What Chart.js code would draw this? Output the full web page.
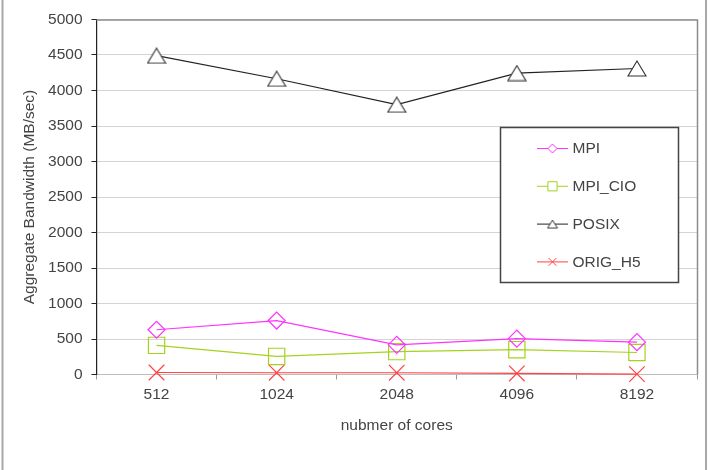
<!DOCTYPE html>
<html>
<head>
<meta charset="utf-8">
<script src="https://cdn.jsdelivr.net/npm/chart.js@4.4.1/dist/chart.umd.min.js"></script>
<style>
  html, body { margin: 0; padding: 0; background: #fff; }
  #wrap { width: 712px; height: 470px; position: relative; }
</style>
</head>
<body>
<div id="wrap"><canvas id="c" width="712" height="470"></canvas></div>
<script>
const categories = ['512', '1024', '2048', '4096', '8192'];
const mpi      = [630, 760, 418, 505, 455];
const mpiCio   = [410, 255, 322, 350, 310];
const posix    = [4490, 4165, 3800, 4245, 4310];
const origH5   = [28, 25, 25, 15, 5];
const seriesNames = ['MPI', 'MPI_CIO', 'POSIX', 'ORIG_H5'];
const yTitle = 'Aggregate Bandwidth (MB/sec)';
const xTitle = 'nubmer of cores';

const FONT = 'Liberation Sans, Arial, sans-serif';
const FS = 15.5;
const TXT = '#444444';

function makeTriangle(w, h, color, lw) {
  const c = document.createElement('canvas');
  c.width = w + 2; c.height = h + 2;
  const g = c.getContext('2d');
  g.strokeStyle = color; g.lineWidth = lw;
  g.fillStyle = '#ffffff';
  g.beginPath();
  g.moveTo(c.width / 2, 1);
  g.lineTo(c.width - 1, c.height - 1);
  g.lineTo(1, c.height - 1);
  g.closePath();
  g.fill();
  g.stroke();
  return c;
}
const triBig = makeTriangle(18, 15, '#333333', 1.1);
const triSmall = makeTriangle(10, 8, '#333333', 1);

const legendStyles = [
  { style: 'rectRot', r: 4.5, color: '#ff33ff' },
  { style: 'rect', r: 6.5, color: '#a6d21e' },
  { style: triSmall, r: 5, color: '#222222' },
  { style: 'crossRot', r: 5.5, color: '#ff4444' }
];

const framePlugin = {
  id: 'frame',
  beforeDraw(chart) {
    const ctx = chart.ctx;
    ctx.save();
    ctx.strokeStyle = '#a8a8a8';
    ctx.lineWidth = 2;
    ctx.beginPath();
    ctx.moveTo(2.5, 0); ctx.lineTo(2.5, 470);
    ctx.moveTo(706, 0); ctx.lineTo(706, 470);
    ctx.stroke();
    ctx.restore();
  },
  beforeDatasetsDraw(chart) {
    const {ctx, chartArea: a} = chart;
    ctx.save();
    ctx.strokeStyle = '#8c8c8c';
    ctx.lineWidth = 1.5;
    ctx.beginPath();
    ctx.moveTo(a.left, a.top + 0.5);
    ctx.lineTo(a.right + 0.5, a.top + 0.5);
    ctx.lineTo(a.right + 0.5, a.bottom);
    ctx.stroke();
    ctx.restore();
  },
  afterDraw(chart) {
    const ctx = chart.ctx;
    const bx = 500.5, by = 127.5, bw = 178, bh = 155;
    ctx.save();
    ctx.fillStyle = '#ffffff';
    ctx.fillRect(bx, by, bw, bh);
    ctx.strokeStyle = '#444';
    ctx.lineWidth = 1.5;
    ctx.strokeRect(bx, by, bw, bh);
    chart.data.datasets.forEach((ds, i) => {
      const y = 148.5 + i * 37.8;
      const ls = legendStyles[i];
      ctx.strokeStyle = ls.color;
      ctx.lineWidth = 1;
      ctx.beginPath();
      ctx.moveTo(537, y); ctx.lineTo(568, y);
      ctx.stroke();
      ctx.fillStyle = '#ffffff';
      Chart.helpers.drawPoint(ctx, { pointStyle: ls.style, radius: ls.r, rotation: 0, borderWidth: 1 }, 552.5, y);
      ctx.fillStyle = TXT;
      ctx.font = FS + 'px ' + FONT;
      ctx.textBaseline = 'middle';
      ctx.textAlign = 'left';
      ctx.fillText(ds.label, 572.5, y + 0.5);
    });
    ctx.restore();
  }
};

function mk(label, data, color, style, radius) {
  return {
    label, data,
    borderColor: color,
    backgroundColor: 'rgba(255,255,255,0)',
    borderWidth: 1.2,
    pointStyle: style,
    pointRadius: radius,
    pointHoverRadius: radius,
    pointBorderColor: color,
    pointBackgroundColor: 'rgba(255,255,255,0)',
    pointBorderWidth: 1.2,
    tension: 0,
    fill: false,
    clip: false
  };
}

new Chart(document.getElementById('c'), {
  type: 'line',
  data: {
    labels: categories,
    datasets: [
      mk(seriesNames[0], mpi, '#ff33ff', 'rectRot', 8.5),
      mk(seriesNames[1], mpiCio, '#a6d21e', 'rect', 11.5),
      mk(seriesNames[2], posix, '#222222', triBig, 10),
      mk(seriesNames[3], origH5, '#ff4444', 'crossRot', 11)
    ]
  },
  options: {
    responsive: false,
    animation: false,
    devicePixelRatio: 1,
    layout: { padding: { left: 0, right: 15, top: 19.5, bottom: 0 } },
    plugins: { legend: { display: false }, tooltip: { enabled: false } },
    scales: {
      x: {
        offset: true,
        grid: { offset: true, drawOnChartArea: false, tickLength: 5, color: '#9a9a9a', tickColor: '#9a9a9a' },
        border: { color: '#bdbdbd', width: 1 },
        ticks: { color: TXT, font: { family: FONT, size: FS }, padding: 6, maxRotation: 0 },
        title: { display: true, text: xTitle, color: TXT, font: { family: FONT, size: FS }, padding: { top: 0, bottom: 34.5 } },
        afterFit(s) { s.height = 95.5; }
      },
      y: {
        min: 0, max: 5000,
        ticks: { stepSize: 500, color: TXT, font: { family: FONT, size: FS }, padding: 9, callback: (v) => String(v) },
        grid: { color: '#d4d4d4', tickColor: '#222', tickLength: 5, lineWidth: 1 },
        border: { color: '#222', width: 1.2 },
        title: { display: true, text: yTitle, color: TXT, font: { family: FONT, size: FS }, padding: { top: 20.5, bottom: 0 } },
        afterFit(s) { s.width = 96.5; }
      }
    }
  },
  plugins: [framePlugin]
});
</script>
</body>
</html>
